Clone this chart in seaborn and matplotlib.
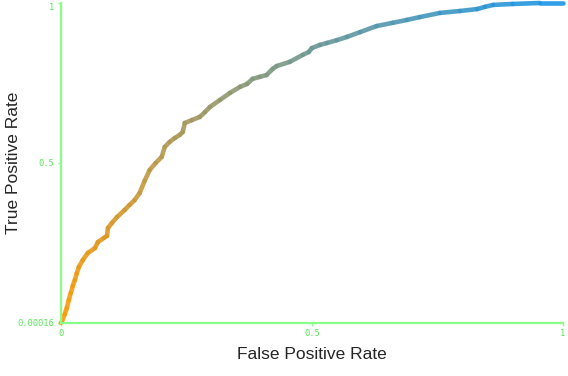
import numpy as np
import pandas as pd
import seaborn as sns
import matplotlib.pyplot as plt
from matplotlib.colors import LinearSegmentedColormap

# ROC curve points
fpr = [0.000, 0.002, 0.008, 0.012, 0.016, 0.020, 0.024, 0.028, 0.032, 0.036,
       0.044, 0.054, 0.068, 0.074, 0.086, 0.092, 0.094, 0.102, 0.112, 0.127,
       0.137, 0.147, 0.157, 0.167, 0.177, 0.189, 0.201, 0.207, 0.217, 0.227,
       0.237, 0.243, 0.247, 0.261, 0.277, 0.287, 0.297, 0.317, 0.337, 0.357,
       0.371, 0.382, 0.396, 0.410, 0.422, 0.430, 0.456, 0.482, 0.494, 0.500,
       0.516, 0.530, 0.550, 0.570, 0.596, 0.629, 0.661, 0.689, 0.715, 0.755,
       0.795, 0.829, 0.845, 0.861, 0.900, 0.954, 1.000]
tpr = [0.000, 0.003, 0.028, 0.047, 0.072, 0.094, 0.116, 0.134, 0.156, 0.175,
       0.197, 0.219, 0.234, 0.253, 0.266, 0.272, 0.297, 0.313, 0.331, 0.353,
       0.369, 0.384, 0.406, 0.444, 0.478, 0.500, 0.519, 0.550, 0.566, 0.578,
       0.588, 0.597, 0.625, 0.634, 0.644, 0.659, 0.675, 0.697, 0.719, 0.738,
       0.747, 0.763, 0.769, 0.775, 0.794, 0.803, 0.816, 0.838, 0.847, 0.859,
       0.869, 0.875, 0.884, 0.894, 0.909, 0.928, 0.938, 0.947, 0.956, 0.969,
       0.975, 0.981, 0.988, 0.994, 0.997, 1.000, 1.000]

x_ticks = [0, 0.5, 1]
x_ticklabels = ["0", "0.5", "1"]
y_ticks = [0.00016, 0.5, 1]
y_ticklabels = ["0.00016", "0.5", "1"]

sns.set_style("white")
plt.rcParams['font.family'] = ['Liberation Sans', 'DejaVu Sans']

# colour follows position along the curve (orange -> blue)
x = np.array(fpr)
y = np.array(tpr)
arc = np.concatenate([[0], np.cumsum(np.hypot(np.diff(x), np.diff(y)))])
arc = (arc / arc[-1]) ** 1.15

# long-form frame: one two-point group per segment
rows = []
for i in range(len(x) - 1):
    t = (arc[i] + arc[i + 1]) / 2
    rows.append({"seg": t, "fpr": x[i], "tpr": y[i]})
    rows.append({"seg": t, "fpr": x[i + 1], "tpr": y[i + 1]})
seg_df = pd.DataFrame(rows)

cmap = LinearSegmentedColormap.from_list("roc", ["#ff9a05", "#1696ea"])

fig = plt.figure(figsize=(5.68, 3.76), dpi=100)
ax = fig.add_axes([0.107, 0.141, 0.884, 0.851])

sns.lineplot(data=seg_df, x="fpr", y="tpr", hue="seg", hue_norm=(0, 1),
             palette=cmap, units="seg", estimator=None, sort=False,
             legend=False, linewidth=3.3, alpha=0.9, ax=ax, clip_on=False,
             solid_capstyle="round")

ax.set_xlim(0, 1)
ax.set_ylim(0, 1)

green_line = "#88ff88"
green_text = "#55e855"
for side in ["top", "right"]:
    ax.spines[side].set_visible(False)
for side in ["left", "bottom"]:
    ax.spines[side].set_color(green_line)
    ax.spines[side].set_linewidth(1.6)

ax.set_xticks(x_ticks)
ax.set_xticklabels(x_ticklabels)
ax.set_yticks(y_ticks)
ax.set_yticklabels(y_ticklabels)
ax.tick_params(axis="both", colors=green_line, labelcolor=green_text,
               length=2.5, width=1, pad=2, labelsize=6.3, left=True, bottom=True)
for lab in ax.get_xticklabels() + ax.get_yticklabels():
    lab.set_family("DejaVu Sans Mono")
ax.get_yticklabels()[-1].set_va("top")

ax.set_xlabel("False Positive Rate", fontsize=12.5)
ax.set_ylabel("True Positive Rate", fontsize=12.5)
ax.xaxis.set_label_coords(0.5, -0.1)
ax.yaxis.set_label_coords(-0.094, 0.5)
ax.xaxis.label.set_va("center")
ax.yaxis.label.set_va("center")

fig.savefig("out.png", dpi=100)
